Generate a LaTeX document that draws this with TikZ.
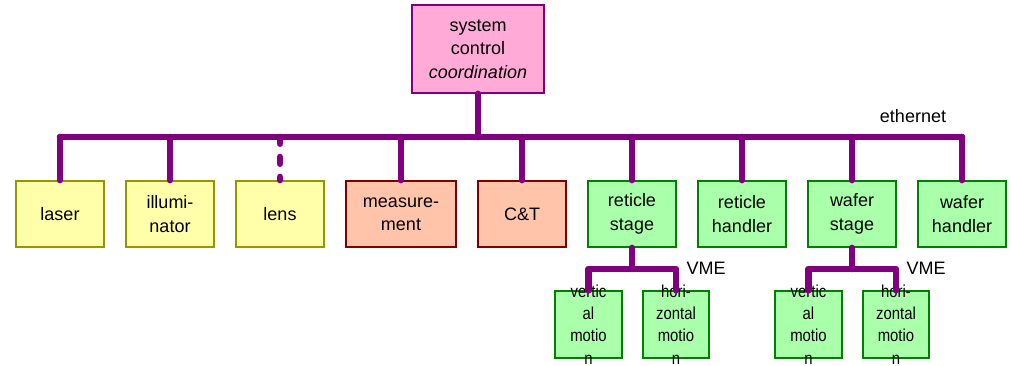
\documentclass[tikz,border=0pt]{standalone}
\usepackage{fontspec}
\setmainfont{Liberation Sans}
\usepackage{xcolor}
\usepackage{tikz}

\definecolor{buscol}{RGB}{128,0,128}
\definecolor{ctrlfill}{RGB}{255,170,215}
\definecolor{optfill}{RGB}{255,255,170}
\definecolor{optdraw}{RGB}{150,150,0}
\definecolor{measfill}{RGB}{255,196,170}
\definecolor{measdraw}{RGB}{128,0,0}
\definecolor{mechfill}{RGB}{170,255,170}
\definecolor{mechdraw}{RGB}{0,128,0}

\begin{document}
\begin{tikzpicture}[x=0.75pt,y=-0.75pt,
  box/.style={rectangle,draw,line width=1.4pt,inner sep=0pt,align=center,
    font=\fontsize{13.5}{17.6}\selectfont,minimum width=66pt,minimum height=49.5pt},
  optbox/.style={box,fill=optfill,draw=optdraw},
  measbox/.style={box,fill=measfill,draw=measdraw},
  mechbox/.style={box,fill=mechfill,draw=mechdraw},
  subbox/.style={mechbox,minimum width=50pt,minimum height=50pt},
  subtext/.style={align=center,inner sep=0pt,xscale=0.86,transform shape,
    font=\fontsize{13}{16.7}\selectfont},
  bus/.style={draw=buscol,line width=5pt,line cap=round,line join=round},
  lbl/.style={inner sep=0pt,font=\fontsize{13.5}{15}\selectfont}]
  \useasboundingbox (0,0) rectangle (1011,365);

  % top level
  \node[box,fill=ctrlfill,draw=buscol,minimum width=99pt,minimum height=66pt] (sysctl) at (478,49) {system\\control\\\textit{coordination}};

  % subsystems on the ethernet
  \node[optbox] (laser) at (60,214) {laser};
  \node[optbox] (illum) at (170,214) {illumi-\\nator};
  \node[optbox] (lens) at (280,214) {lens};
  \node[measbox,minimum width=82.5pt] (meas) at (401,214) {measure-\\ment};
  \node[measbox] (ct) at (522,214) {C\&T};
  \node[mechbox] (rstage) at (632,214) {reticle\\stage};
  \node[mechbox] (rhandler) at (742,214) {reticle\\handler};
  \node[mechbox] (wstage) at (852,214) {wafer\\stage};
  \node[mechbox] (whandler) at (962,214) {wafer\\handler};

  % motion units on VME
  \node[subbox] (rvert) at (588.5,324.5) {};
  \node[subbox] (rhoriz) at (676,324.5) {};
  \node[subbox] (wvert) at (808.5,324.5) {};
  \node[subbox] (whoriz) at (896,324.5) {};
  \foreach \n in {rvert,wvert}
    \node[subtext] at (\n) {vertic\\al\\motio\\n};
  \foreach \n in {rhoriz,whoriz}
    \node[subtext] at (\n) {hori-\\zontal\\motio\\n};

  % ethernet
  \coordinate (busL) at (60,137);
  \coordinate (busR) at (962,137);
  \draw[bus] (busL) -- (busR);
  \draw[bus] (sysctl.south) -- (sysctl.south |- busL);
  \foreach \n in {laser,illum,meas,ct,rstage,rhandler,wstage,whandler}
    \draw[bus] (\n.north |- busL) -- (\n.north);
  \draw[bus,dash pattern=on 5pt off 10pt] (lens.north |- busL) -- (lens.north);
  \node[lbl] (eth) at (913,116) {ethernet};

  % VME
  \draw[bus] (rstage.south) -- ++(0,21) coordinate (rj);
  \draw[bus] (rvert.north) |- (rj) -| (rhoriz.north);
  \draw[bus] (wstage.south) -- ++(0,21) coordinate (wj);
  \draw[bus] (wvert.north) |- (wj) -| (whoriz.north);
  \node[lbl] (rvme) at (706,268) {VME};
  \node[lbl] (wvme) at (926,268) {VME};
\end{tikzpicture}
\end{document}
